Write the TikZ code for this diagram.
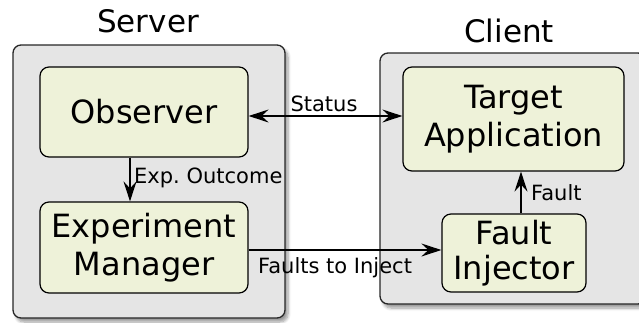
\documentclass[tikz,border=0pt]{standalone}
\usepackage{fontspec}
\setmainfont{DejaVu Sans}
\frenchspacing
\usetikzlibrary{arrows.meta,shadows.blur}
\definecolor{hostfill}{RGB}{229,229,229}
\definecolor{partfill}{RGB}{238,242,217}
\tikzset{
  host/.style={draw=black!85, line width=1.3pt, fill=hostfill, rounded corners=8pt,
    inner sep=0pt,
    blur shadow={shadow xshift=3pt, shadow yshift=-4pt, shadow blur steps=6, shadow blur radius=3pt}},
  part/.style={draw=black, line width=1.2pt, fill=partfill, rounded corners=9pt,
    inner sep=0pt, align=center, font=\fontsize{32}{38}\selectfont},
  title/.style={font=\fontsize{31}{37}\selectfont, anchor=base},
  lbl/.style={font=\fontsize{21}{25}\selectfont, inner sep=0pt},
  flow/.style={line width=1.3pt, -{Stealth[length=20pt,width=13pt,inset=7pt]}},
  both/.style={line width=1.3pt, {Stealth[length=20pt,width=13pt,inset=7pt]}-{Stealth[length=20pt,width=13pt,inset=7pt]}}
}
\begin{document}
\begin{tikzpicture}[x=1pt,y=-1pt]
  \useasboundingbox (0,0) rectangle (639,322);

  % the two machines
  \node[host, minimum width=272pt, minimum height=273pt] (server) at (149,181.5) {};
  \node[host, minimum width=266pt, minimum height=251pt] (client) at (513,178.5) {};
  \node[title] (servert) at (148,32) {Server};
  \node[title] (clientt) at (509,42) {Client};

  % components
  \node[part, minimum width=208pt, minimum height=90pt] (obs) at (144,112) {Observer};
  \node[part, minimum width=208pt, minimum height=91pt] (mgr) at (144,247.5) {Experiment\\Manager};
  \node[part, minimum width=221pt, minimum height=104pt] (app) at (513.5,119) {Target\\Application};
  \node[part, minimum width=144pt, minimum height=78pt,
        font=\fontsize{32}{35}\selectfont] (inj) at (514,253) {Fault\\Injector};

  % connector guides
  \coordinate (sy) at (0,116);
  \coordinate (ex) at (130,0);
  \coordinate (fy) at (0,250);
  \coordinate (fx) at (521,0);

  % connectors
  \draw[both] (obs.east |- sy) -- (app.west |- sy);
  \draw[flow] (obs.south -| ex) -- (mgr.north -| ex);
  \draw[flow] (mgr.east |- fy) -- (inj.west |- fy);
  \draw[flow] (inj.north -| fx) -- (app.south -| fx);

  % connector labels
  \node[lbl, anchor=base] (ls) at (324,111) {Status};
  \node[lbl, anchor=base west] (le) at (134,183) {Exp. Outcome};
  \node[lbl, anchor=base west] (lf) at (258,273) {Faults to Inject};
  \node[lbl, anchor=base west] (lfa) at (531,200) {Fault};
\end{tikzpicture}
\end{document}
